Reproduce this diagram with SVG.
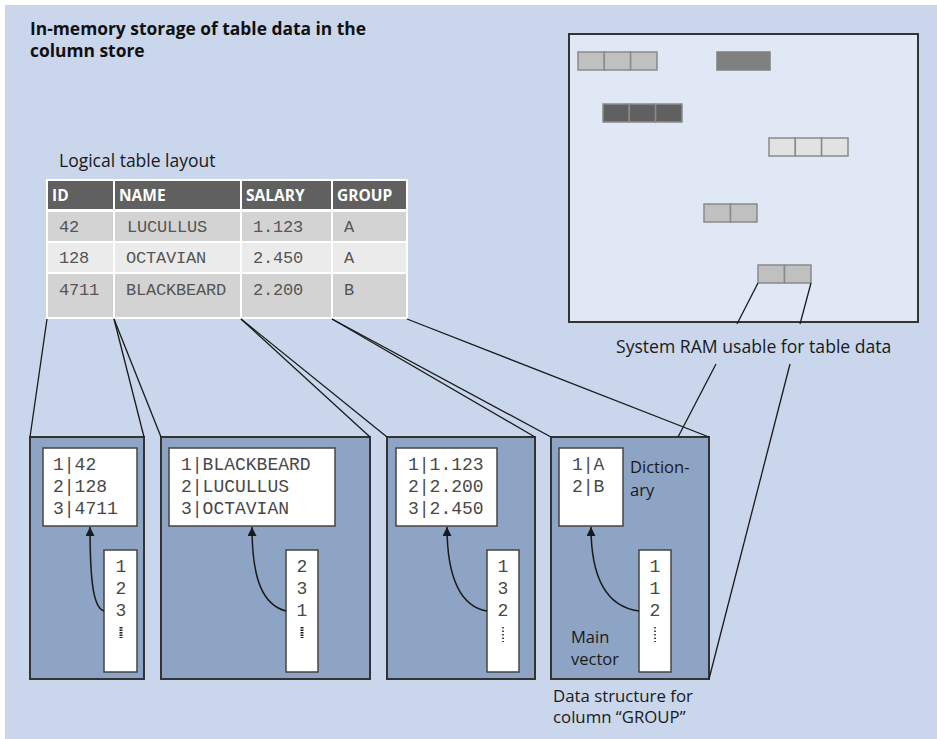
<svg xmlns="http://www.w3.org/2000/svg" width="937" height="739" viewBox="0 0 937 739">
<defs>
<style>
.bg{fill:#c9d6ec}
.sans{font-family:"Open Sans","Liberation Sans",sans-serif;fill:#1a1a1a}
.title{font-family:"Open Sans","Liberation Sans",sans-serif;font-weight:bold;font-size:17.4px;fill:#111}
.hdr{fill:#606060;stroke:#fff;stroke-width:2}
.c1{fill:#d3d3d3;stroke:#fff;stroke-width:2}
.c2{fill:#ebebeb;stroke:#fff;stroke-width:2}
.htxt{font-family:"Open Sans","Liberation Sans",sans-serif;font-weight:bold;font-size:15.5px;fill:#fff}
.ttxt{font-family:"Liberation Mono","DejaVu Sans Mono",monospace;font-size:17px;letter-spacing:-0.2px;fill:#555}
.mono{font-family:"Liberation Mono","DejaVu Sans Mono",monospace;font-size:18px;fill:#484848}
.ram{fill:#dfe8f4;stroke:#333;stroke-width:2}
.blk{stroke:#8a8a8a;stroke-width:1.5}
.col{fill:#8ea4c4;stroke:#333;stroke-width:2}
.wbox{fill:#fff;stroke:#444;stroke-width:1.5}
.conn{fill:none;stroke:#1a1a1a;stroke-width:1.3}
.arr{fill:none;stroke:#1a1a1a;stroke-width:1.5}
.dots1{stroke:#222;stroke-width:3;stroke-dasharray:1.5 1}
.dots2{stroke:#222;stroke-width:1.6;stroke-dasharray:1.6 1.9}
</style>
<marker id="ah" viewBox="0 0 10 10" refX="10" refY="5" markerUnits="userSpaceOnUse" markerWidth="10" markerHeight="9" orient="auto">
<path d="M0,0 L10,5 L0,10 z" fill="#1a1a1a"/>
</marker>
</defs>
<rect class="bg" x="5" y="5" width="932" height="734"/>

<g id="title">
<text class="title" x="30" y="35">In-memory storage of table data in the</text>
<text class="title" x="30" y="57">column store</text>
</g>

<g id="logical-table">
<text class="sans" x="59" y="167" font-size="17.5">Logical table layout</text>
<rect class="hdr" x="47" y="180" width="67" height="30"/>
<rect class="hdr" x="114" y="180" width="127" height="30"/>
<rect class="hdr" x="241" y="180" width="91" height="30"/>
<rect class="hdr" x="332" y="180" width="75" height="30"/>
<text class="htxt" x="52" y="201">ID</text>
<text class="htxt" x="119" y="201">NAME</text>
<text class="htxt" x="246" y="201">SALARY</text>
<text class="htxt" x="337" y="201">GROUP</text>
<rect class="c1" x="47" y="211" width="67" height="31"/>
<rect class="c1" x="114" y="211" width="127" height="31"/>
<rect class="c1" x="241" y="211" width="91" height="31"/>
<rect class="c1" x="332" y="211" width="75" height="31"/>
<rect class="c2" x="47" y="242" width="67" height="31"/>
<rect class="c2" x="114" y="242" width="127" height="31"/>
<rect class="c2" x="241" y="242" width="91" height="31"/>
<rect class="c2" x="332" y="242" width="75" height="31"/>
<rect class="c1" x="47" y="273" width="67" height="45"/>
<rect class="c1" x="114" y="273" width="127" height="45"/>
<rect class="c1" x="241" y="273" width="91" height="45"/>
<rect class="c1" x="332" y="273" width="75" height="45"/>
<text class="ttxt" x="59" y="232">42</text>
<text class="ttxt" x="127" y="232">LUCULLUS</text>
<text class="ttxt" x="253" y="232">1.123</text>
<text class="ttxt" x="344" y="232">A</text>
<text class="ttxt" x="59" y="263">128</text>
<text class="ttxt" x="126" y="263">OCTAVIAN</text>
<text class="ttxt" x="253" y="263">2.450</text>
<text class="ttxt" x="344" y="263">A</text>
<text class="ttxt" x="59" y="295">4711</text>
<text class="ttxt" x="126" y="295">BLACKBEARD</text>
<text class="ttxt" x="253" y="295">2.200</text>
<text class="ttxt" x="344" y="295">B</text>
</g>

<g id="system-ram">
<rect class="ram" x="569" y="34" width="349" height="288"/>
<g class="blk">
<rect x="578" y="52" width="26.3" height="18" fill="#c0c0c0"/>
<rect x="604.3" y="52" width="26.3" height="18" fill="#c0c0c0"/>
<rect x="630.6" y="52" width="26.4" height="18" fill="#c0c0c0"/>
<rect x="717" y="52" width="53" height="18" fill="#808080" stroke="#808080"/>
<rect x="603" y="104" width="26.3" height="18" fill="#606060"/>
<rect x="629.3" y="104" width="26.3" height="18" fill="#606060"/>
<rect x="655.6" y="104" width="26.4" height="18" fill="#606060"/>
<rect x="769" y="138" width="26.3" height="18" fill="#e2e2e2"/>
<rect x="795.3" y="138" width="26.3" height="18" fill="#e2e2e2"/>
<rect x="821.6" y="138" width="26.4" height="18" fill="#e2e2e2"/>
<rect x="704" y="204" width="26.5" height="18" fill="#c0c0c0"/>
<rect x="730.5" y="204" width="26.5" height="18" fill="#c0c0c0"/>
<rect x="758" y="265" width="26.5" height="18" fill="#c0c0c0"/>
<rect x="784.5" y="265" width="26.5" height="18" fill="#c0c0c0"/>
</g>
<text class="sans" x="616" y="353" font-size="17.6">System RAM usable for table data</text>
</g>

<g id="col-id">
<rect class="col" x="30" y="437" width="114" height="242"/>
<rect class="wbox" x="43" y="448" width="94" height="78"/>
<text class="mono" x="53" y="470">1|42</text>
<text class="mono" x="53" y="492">2|128</text>
<text class="mono" x="53" y="514">3|4711</text>
<rect class="wbox" x="104" y="550" width="33" height="122"/>
<text class="mono" x="121" y="572" text-anchor="middle">1</text>
<text class="mono" x="121" y="594" text-anchor="middle">2</text>
<text class="mono" x="121" y="616" text-anchor="middle">3</text>
<line class="dots1" x1="121" y1="627" x2="121" y2="638"/>
<path class="arr" d="M104,611 C94,608 90,585 90,527" marker-end="url(#ah)"/>
</g>

<g id="col-name">
<rect class="col" x="161" y="437" width="209" height="242"/>
<rect class="wbox" x="169" y="448" width="166" height="78"/>
<text class="mono" x="181" y="470">1|BLACKBEARD</text>
<text class="mono" x="181" y="492">2|LUCULLUS</text>
<text class="mono" x="181" y="514">3|OCTAVIAN</text>
<rect class="wbox" x="286" y="550" width="32" height="122"/>
<text class="mono" x="302" y="572" text-anchor="middle">2</text>
<text class="mono" x="302" y="594" text-anchor="middle">3</text>
<text class="mono" x="302" y="616" text-anchor="middle">1</text>
<line class="dots1" x1="302" y1="627" x2="302" y2="638"/>
<path class="arr" d="M286,611 C263,605 252,580 252,527" marker-end="url(#ah)"/>
</g>

<g id="col-salary">
<rect class="col" x="387" y="437" width="148" height="242"/>
<rect class="wbox" x="396" y="448" width="101" height="78"/>
<text class="mono" x="408" y="470">1|1.123</text>
<text class="mono" x="408" y="492">2|2.200</text>
<text class="mono" x="408" y="514">3|2.450</text>
<rect class="wbox" x="487" y="550" width="32" height="122"/>
<text class="mono" x="503" y="572" text-anchor="middle">1</text>
<text class="mono" x="503" y="594" text-anchor="middle">3</text>
<text class="mono" x="503" y="616" text-anchor="middle">2</text>
<line class="dots2" x1="503" y1="627" x2="503" y2="642"/>
<path class="arr" d="M487,611 C462,607 447,580 447,527" marker-end="url(#ah)"/>
</g>

<g id="col-group">
<rect class="col" x="551" y="437" width="158" height="242"/>
<rect class="wbox" x="559" y="448" width="64" height="78"/>
<text class="mono" x="572" y="470">1|A</text>
<text class="mono" x="572" y="492">2|B</text>
<text class="sans" x="630" y="473" font-size="16.5">Diction-</text>
<text class="sans" x="630" y="496" font-size="16.5">ary</text>
<rect class="wbox" x="639" y="550" width="32" height="122"/>
<text class="mono" x="655" y="572" text-anchor="middle">1</text>
<text class="mono" x="655" y="594" text-anchor="middle">1</text>
<text class="mono" x="655" y="616" text-anchor="middle">2</text>
<line class="dots2" x1="655" y1="627" x2="655" y2="642"/>
<path class="arr" d="M639,611 C608,607 591,580 591,527" marker-end="url(#ah)"/>
<text class="sans" x="571" y="643" font-size="16.5">Main</text>
<text class="sans" x="571" y="665" font-size="16.5">vector</text>
<text class="sans" x="553" y="702" font-size="16.8">Data structure for</text>
<text class="sans" x="553" y="723" font-size="16.8">column “GROUP”</text>
</g>

<g id="connectors">
<line class="conn" x1="47" y1="319" x2="30" y2="437"/>
<line class="conn" x1="114" y1="319" x2="144" y2="437"/>
<line class="conn" x1="114" y1="319" x2="161" y2="437"/>
<line class="conn" x1="241" y1="319" x2="370" y2="437"/>
<line class="conn" x1="241" y1="319" x2="387" y2="437"/>
<line class="conn" x1="332" y1="319" x2="535" y2="437"/>
<line class="conn" x1="332" y1="319" x2="551" y2="437"/>
<line class="conn" x1="407" y1="319" x2="709" y2="437"/>
<line class="conn" x1="758" y1="283" x2="737" y2="324"/>
<line class="conn" x1="811" y1="283" x2="800" y2="324"/>
<line class="conn" x1="716" y1="364" x2="678" y2="437"/>
<line class="conn" x1="790" y1="364" x2="709" y2="679"/>
</g>
</svg>
